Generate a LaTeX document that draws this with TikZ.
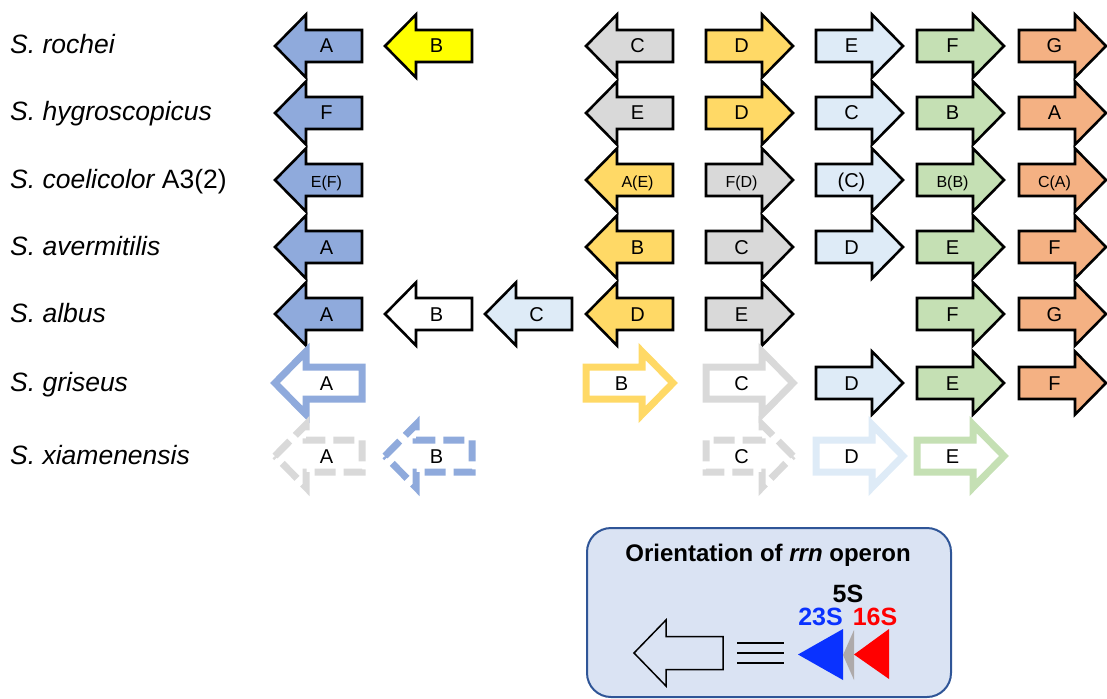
\documentclass[tikz,border=0pt]{standalone}
\usepackage{fontspec}
\setmainfont{Liberation Sans}
\definecolor{cblue}{HTML}{8FAADC}
\definecolor{cyel}{HTML}{FFD966}
\definecolor{cgray}{HTML}{D9D9D9}
\definecolor{clblue}{HTML}{DEEBF7}
\definecolor{cgreen}{HTML}{C5E0B4}
\definecolor{corange}{HTML}{F4B183}
\definecolor{cbright}{HTML}{FFFF00}
\definecolor{legfill}{HTML}{DAE3F3}
\definecolor{legdraw}{HTML}{2F5597}
\definecolor{rblue}{HTML}{0A32FF}
\definecolor{rgray}{HTML}{AEAAAA}
\tikzset{
 gene/.style={draw=black, line width=2.6pt, line join=miter, fill=#1},
 ghost/.style={draw=#1, line width=7pt, fill=white, line join=miter},
 ghostd/.style={draw=#1, line width=7pt, fill=white, line join=miter, dash pattern=on 21pt off 8pt},
 lbl/.style={anchor=base, font=\fontsize{20}{24}\selectfont, inner sep=0pt},
 lbls/.style={anchor=base, font=\fontsize{16}{19}\selectfont, inner sep=0pt},
 species/.style={anchor=base west, font=\fontsize{26.5}{30}\selectfont\itshape, inner sep=0pt},
 legtxt/.style={anchor=base, font=\fontsize{25}{29}\selectfont\bfseries, inner sep=0pt},
}
% left-pointing gene: style, left x, centre y, name, label style, text
\newcommand{\lgene}[6]{%
  \draw[#1] (#2,#3) -- ++(31,-31.5) -- ++(0,15.5) -- ++(56,0) -- ++(0,32) -- ++(-56,0) -- ++(0,15.5) -- cycle;
  \node[#5] (#4) at ({#2+51.5},{#3+7}) {#6};}
% right-pointing gene
\newcommand{\rgene}[6]{%
  \draw[#1] ({#2+87},#3) -- ++(-31,-31.5) -- ++(0,15.5) -- ++(-56,0) -- ++(0,32) -- ++(56,0) -- ++(0,15.5) -- cycle;
  \node[#5] (#4) at ({#2+35.5},{#3+7}) {#6};}
\begin{document}
\begin{tikzpicture}[x=1pt,y=-1pt]
\useasboundingbox (0,0) rectangle (1107,698);
\def\ca{275}\def\cb{385}\def\cc{485}\def\cd{586}\def\ce{706}\def\cf{816}\def\cg{917}\def\ch{1019}
% species labels
\node[species] (sp1) at (10,54) {S. rochei};
\node[species] (sp2) at (10,121) {S. hygroscopicus};
\node[species] (sp3) at (10,188) {S. coelicolor \upshape A3(2)};
\node[species] (sp4) at (10,255) {S. avermitilis};
\node[species] (sp5) at (10,322) {S. albus};
\node[species] (sp6) at (10,391) {S. griseus};
\node[species] (sp7) at (10,464) {S. xiamenensis};
% row 1
\lgene{gene=cblue}{\ca}{46}{r1a}{lbl}{A}
\lgene{gene=cbright}{\cb}{46}{r1b}{lbl}{B}
\lgene{gene=cgray}{\cd}{46}{r1c}{lbl}{C}
\rgene{gene=cyel}{\ce}{46}{r1d}{lbl}{D}
\rgene{gene=clblue}{\cf}{46}{r1e}{lbl}{E}
\rgene{gene=cgreen}{\cg}{46}{r1f}{lbl}{F}
\rgene{gene=corange}{\ch}{46}{r1g}{lbl}{G}
% row 2
\lgene{gene=cblue}{\ca}{113}{r2f}{lbl}{F}
\lgene{gene=cgray}{\cd}{113}{r2e}{lbl}{E}
\rgene{gene=cyel}{\ce}{113}{r2d}{lbl}{D}
\rgene{gene=clblue}{\cf}{113}{r2c}{lbl}{C}
\rgene{gene=cgreen}{\cg}{113}{r2b}{lbl}{B}
\rgene{gene=corange}{\ch}{113}{r2a}{lbl}{A}
% row 3
\lgene{gene=cblue}{\ca}{180}{r3a}{lbls}{E(F)}
\lgene{gene=cyel}{\cd}{180}{r3b}{lbls}{A(E)}
\rgene{gene=cgray}{\ce}{180}{r3c}{lbls}{F(D)}
\rgene{gene=clblue}{\cf}{180}{r3d}{lbl}{(C)}
\rgene{gene=cgreen}{\cg}{180}{r3e}{lbls}{B(B)}
\rgene{gene=corange}{\ch}{180}{r3f}{lbls}{C(A)}
% row 4
\lgene{gene=cblue}{\ca}{247}{r4a}{lbl}{A}
\lgene{gene=cyel}{\cd}{247}{r4b}{lbl}{B}
\rgene{gene=cgray}{\ce}{247}{r4c}{lbl}{C}
\rgene{gene=clblue}{\cf}{247}{r4d}{lbl}{D}
\rgene{gene=cgreen}{\cg}{247}{r4e}{lbl}{E}
\rgene{gene=corange}{\ch}{247}{r4f}{lbl}{F}
% row 5
\lgene{gene=cblue}{\ca}{314}{r5a}{lbl}{A}
\lgene{gene=white}{\cb}{314}{r5b}{lbl}{B}
\lgene{gene=clblue}{\cc}{314}{r5c}{lbl}{C}
\lgene{gene=cyel}{\cd}{314}{r5d}{lbl}{D}
\rgene{gene=cgray}{\ce}{314}{r5e}{lbl}{E}
\rgene{gene=cgreen}{\cg}{314}{r5f}{lbl}{F}
\rgene{gene=corange}{\ch}{314}{r5g}{lbl}{G}
% row 6
\lgene{ghost=cblue}{\ca}{383}{r6a}{lbl}{A}
\rgene{ghost=cyel}{\cd}{383}{r6b}{lbl}{B}
\rgene{ghost=cgray}{\ce}{383}{r6c}{lbl}{C}
\rgene{gene=clblue}{\cf}{383}{r6d}{lbl}{D}
\rgene{gene=cgreen}{\cg}{383}{r6e}{lbl}{E}
\rgene{gene=corange}{\ch}{383}{r6f}{lbl}{F}
% row 7
\lgene{ghostd=cgray}{\ca}{456}{r7a}{lbl}{A}
\lgene{ghostd=cblue}{\cb}{456}{r7b}{lbl}{B}
\rgene{ghostd=cgray}{\ce}{456}{r7c}{lbl}{C}
\rgene{ghost=clblue}{\cf}{456}{r7d}{lbl}{D}
\rgene{ghost=cgreen}{\cg}{456}{r7e}{lbl}{E}
% legend
\draw[draw=legdraw, line width=2pt, fill=legfill, rounded corners=24pt] (587,528) rectangle (951,697);
\node[anchor=base, font=\fontsize{24}{28}\selectfont\bfseries, inner sep=0pt] (title) at (768,561) {Orientation of \textit{rrn} operon};
\draw[line width=1.5pt, line join=miter] (634,653) -- ++(32,-33) -- ++(0,16.5) -- ++(57,0) -- ++(0,33) -- ++(-57,0) -- ++(0,16.5) -- cycle;
\draw[line width=1.5pt] (737,643) -- (784,643) (737,653) -- (784,653) (737,663) -- (784,663);
\fill[rblue] (798,654.5) -- (843,629) -- (843,680) -- cycle;
\fill[rgray] (843,655) -- (854,630) -- (854,680) -- cycle;
\fill[red] (854,654.5) -- (889,629) -- (889,679) -- cycle;
\node[legtxt] (l5s) at (848,602) {5S};
\node[legtxt, text=rblue] (l23s) at (820.5,625) {23S};
\node[legtxt, text=red] (l16s) at (875,625) {16S};
\end{tikzpicture}
\end{document}
